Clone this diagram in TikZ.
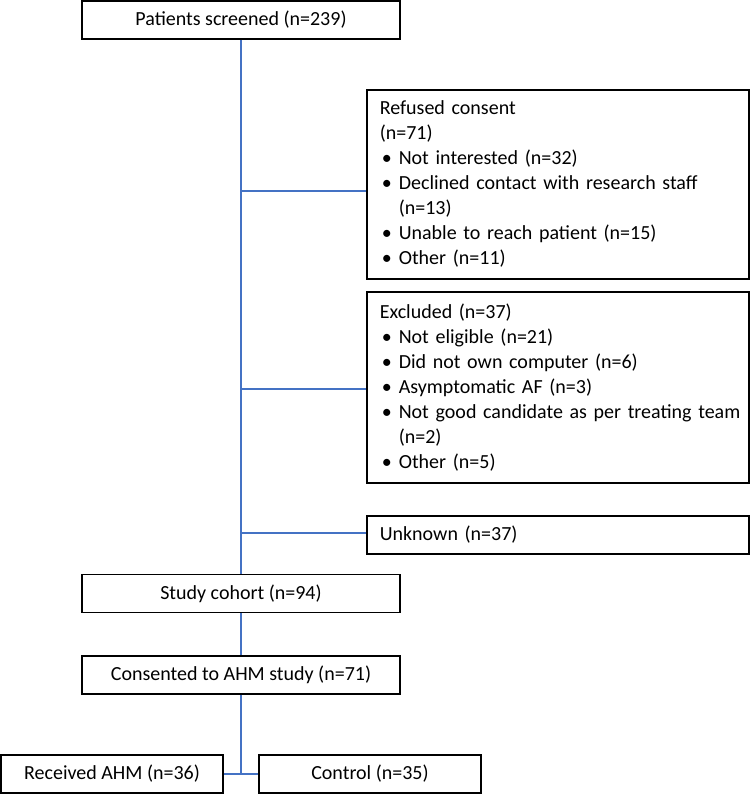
\documentclass[tikz,border=0pt]{standalone}
\usepackage{fontspec}
\setmainfont{Carlito}
\usepackage{tikz}
\usetikzlibrary{positioning, calc}
\definecolor{flowline}{RGB}{68,114,196}

\newcommand{\itm}[1]{\mbox{\makebox[19pt][l]{\hspace{2pt}\textbullet}#1}}
\newcommand{\cnt}[1]{\mbox{\hspace{19pt}#1}}

\begin{document}
\begin{tikzpicture}[
    x=1pt, y=1pt,
    font=\fontsize{20}{25}\selectfont,
    stage/.style={draw, line width=1.6pt, minimum width=318pt, minimum height=38pt, inner sep=0pt, align=center},
    arm/.style={draw, line width=1.6pt, minimum width=222pt, minimum height=38pt, inner sep=0pt, align=center},
    sidebox/.style={draw, line width=1.6pt, text width=356pt, inner xsep=13pt, inner ysep=6pt, align=left, anchor=north west},
    link/.style={draw=flowline, line width=1.8pt}
]
    \useasboundingbox (0,0) rectangle (750,-794);

    % Main column
    \node[stage] (screened) at (241,-20) {Patients screened (n=239)};
    \node[stage] (cohort) at (241,-593.5) {Study cohort (n=94)};
    \node[stage] (consented) at (241,-675) {Consented to AHM study (n=71)};

    % Side boxes
    \node[sidebox, minimum height=189pt] (refused) at (366,-89) {Refused consent\\
        (n=71)\\
        \itm{Not interested (n=32)}\\
        \itm{Declined contact with research staff}\\
        \cnt{(n=13)}\\
        \itm{Unable to reach patient (n=15)}\\
        \itm{Other (n=11)}};
    \node[sidebox, minimum height=191pt] (excluded) at (366,-291) {Excluded (n=37)\\
        \itm{Not eligible (n=21)}\\
        \itm{Did not own computer (n=6)}\\
        \itm{Asymptomatic AF (n=3)}\\
        \itm{Not good candidate as per treating team}\\
        \cnt{(n=2)}\\
        \itm{Other (n=5)}};
    \node[sidebox, minimum height=38pt, inner ysep=0pt] (unknown) at (366,-515) {Unknown (n=37)};

    % Arms
    \node[arm] (ahm) at (112,-774) {Received AHM (n=36)};
    \node[arm] (control) at (370,-774) {Control (n=35)};

    % Junctions on the trunk
    \coordinate (j1) at (241,-191);
    \coordinate (j2) at (241,-389);
    \coordinate (j3) at (241,-533);
    \coordinate (split) at (241,-774);

    % Connections
    \draw[link] (screened) -- (cohort);
    \draw[link] (j1) -- (j1 -| refused.west);
    \draw[link] (j2) -- (j2 -| excluded.west);
    \draw[link] (j3) -- (j3 -| unknown.west);
    \draw[link] (cohort) -- (consented);
    \draw[link] (consented) -- (split);
    \draw[link] (ahm) -- (control);
\end{tikzpicture}
\end{document}
